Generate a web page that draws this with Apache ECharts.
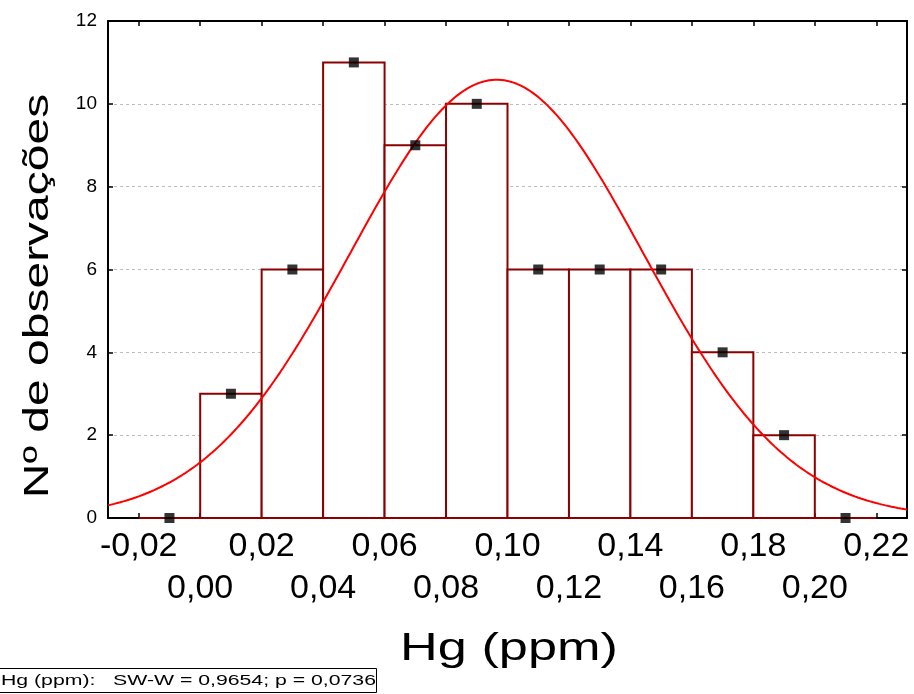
<!DOCTYPE html>
<html>
<head>
<meta charset="utf-8">
<script src="https://cdn.jsdelivr.net/npm/echarts@6/dist/echarts.min.js"></script>
<style>
html,body{margin:0;padding:0;background:#fff;}
#chart{width:914px;height:694px;}
</style>
</head>
<body>
<div id="chart"></div>
<script>
// ---- data ----
const binLower = [-0.02, 0.00, 0.02, 0.04, 0.06, 0.08, 0.10, 0.12, 0.14, 0.16, 0.18, 0.20];
const binUpper = [0.00, 0.02, 0.04, 0.06, 0.08, 0.10, 0.12, 0.14, 0.16, 0.18, 0.20, 0.22];
const counts   = [0, 3, 6, 11, 9, 10, 6, 6, 6, 4, 2, 0];

// fitted normal curve parameters
const fitMean = 0.0965;
const fitSd = 0.0475;
const fitN = 63;
const fitBinWidth = 0.02;

const xTickValues = [-0.02, 0.00, 0.02, 0.04, 0.06, 0.08, 0.10, 0.12, 0.14, 0.16, 0.18, 0.20, 0.22];
const xTickLabels = ['-0,02', '0,00', '0,02', '0,04', '0,06', '0,08', '0,10', '0,12', '0,14', '0,16', '0,18', '0,20', '0,22'];
const yTickLabels = ['0', '2', '4', '6', '8', '10', '12'];

const xTitle = 'Hg (ppm)';
const yTitle = 'Nº de observações';
const statsText = 'Hg (ppm):   SW-W = 0,9654; p = 0,0736';

// ---- build series data ----
const barData = binLower.map((lo, i) => [lo, binUpper[i], counts[i]]);
const pointData = binLower.map((lo, i) => [(lo + binUpper[i]) / 2, counts[i]]);

const curveData = [];
for (let k = -30; k <= 230; k++) {
  const x = k / 1000;
  const z = (x - fitMean) / fitSd;
  const y = fitN * fitBinWidth / (fitSd * Math.sqrt(2 * Math.PI)) * Math.exp(-0.5 * z * z);
  curveData.push([x, y]);
}

// staggered label rows: even indices on the first row, odd on the second
const xRow1Values = xTickValues.filter((v, i) => i % 2 === 0);
const xRow2Values = xTickValues.filter((v, i) => i % 2 === 1);

const FONT = 'Liberation Sans, Arial, sans-serif';

function xLabel(v) {
  let idx = -1, best = 1e9;
  xTickValues.forEach((t, i) => { const d = Math.abs(t - v); if (d < best) { best = d; idx = i; } });
  if (idx < 0 || best > 1e-6) return '';
  return xTickLabels[idx];
}

const labelStyle = {fontSize: 34, color: '#000', fontFamily: FONT, margin: 12,
  formatter: xLabel, showMinLabel: true, showMaxLabel: true, hideOverlap: false};

const chart = echarts.init(document.getElementById('chart'), null, {renderer: 'canvas'});

const option = {
  animation: false,
  backgroundColor: '#ffffff',
  grid: {left: 108, right: 7, top: 21, bottom: 176, containLabel: false, outerBoundsMode: 'none'},
  xAxis: [
    {
      type: 'value', min: -0.03, max: 0.23, position: 'bottom',
      axisLine: {show: true, onZero: false, lineStyle: {color: '#000', width: 2}},
      axisTick: {show: true, inside: true, length: 5, customValues: xTickValues, lineStyle: {color: '#000', width: 1.5}},
      axisLabel: Object.assign({show: true, customValues: xRow1Values}, labelStyle),
      splitLine: {show: false}
    },
    {
      type: 'value', min: -0.03, max: 0.23, position: 'top',
      axisLine: {show: true, onZero: false, lineStyle: {color: '#000', width: 2}},
      axisTick: {show: true, inside: true, length: 5, customValues: xTickValues, lineStyle: {color: '#000', width: 1.5}},
      axisLabel: {show: false},
      splitLine: {show: false}
    },
    {
      type: 'value', min: -0.03, max: 0.23, position: 'bottom', offset: 42,
      axisLine: {show: false, onZero: false},
      axisTick: {show: false},
      axisLabel: Object.assign({show: true, customValues: xRow2Values}, labelStyle),
      splitLine: {show: false}
    }
  ],
  yAxis: [
    {
      type: 'value', min: 0, max: 12, interval: 2, position: 'left',
      axisLine: {show: true, onZero: false, lineStyle: {color: '#000', width: 2}},
      axisTick: {show: true, inside: true, length: 5, lineStyle: {color: '#000', width: 1.5}},
      axisLabel: {
        show: true, fontSize: 19, color: '#000', margin: 11, fontFamily: FONT,
        formatter: function (v) { return yTickLabels[Math.round(v / 2)] || ''; }
      },
      splitLine: {show: true, lineStyle: {color: '#bdbdbd', type: [3, 3], width: 1}}
    },
    {
      type: 'value', min: 0, max: 12, interval: 2, position: 'right',
      axisLine: {show: true, onZero: false, lineStyle: {color: '#000', width: 2}},
      axisTick: {show: true, inside: true, length: 5, lineStyle: {color: '#000', width: 1.5}},
      axisLabel: {show: false},
      splitLine: {show: false}
    }
  ],
  series: [
    {
      type: 'custom', name: 'bars', xAxisIndex: 0, yAxisIndex: 0, z: 3,
      renderItem: function (params, api) {
        const top = api.coord([api.value(0), api.value(2)]);
        const bot = api.coord([api.value(1), 0]);
        const h = bot[1] - top[1];
        if (h < 0.5) {
          return {
            type: 'line',
            shape: {x1: top[0], y1: bot[1], x2: bot[0], y2: bot[1]},
            style: {stroke: '#8b0000', lineWidth: 2}
          };
        }
        return {
          type: 'rect',
          shape: {x: top[0], y: top[1], width: bot[0] - top[0], height: h},
          style: {fill: '#ffffff', stroke: '#8b0000', lineWidth: 2}
        };
      },
      encode: {x: [0, 1], y: 2},
      data: barData
    },
    {
      type: 'line', name: 'normal', xAxisIndex: 0, yAxisIndex: 0, z: 4,
      data: curveData, showSymbol: false, smooth: false,
      lineStyle: {color: '#ff0000', width: 2}
    },
    {
      type: 'scatter', name: 'points', xAxisIndex: 0, yAxisIndex: 0, z: 5,
      data: pointData, symbol: 'rect', symbolSize: 10,
      itemStyle: {color: '#000'}
    }
  ],
  graphic: [
    {
      type: 'text', x: 38, y: 296, rotation: Math.PI / 2, scaleX: 1, scaleY: 0.73,
      style: {text: yTitle, font: '48px ' + FONT, fill: '#000', textAlign: 'center', textVerticalAlign: 'middle'}
    },
    {
      type: 'text', x: 509, y: 649, scaleX: 1.34, scaleY: 1,
      style: {text: xTitle, font: '39px ' + FONT, fill: '#000', textAlign: 'center', textVerticalAlign: 'middle'}
    },
    {
      type: 'rect', shape: {x: -1, y: 668.5, width: 377.5, height: 24},
      style: {fill: 'none', stroke: '#000', lineWidth: 1}
    },
    {
      type: 'text', x: 1, y: 680.5, scaleX: 1.37, scaleY: 1,
      style: {text: statsText, font: '15.5px ' + FONT, fill: '#000', textAlign: 'left', textVerticalAlign: 'middle'}
    }
  ]
};

chart.setOption(option);
</script>
</body>
</html>
